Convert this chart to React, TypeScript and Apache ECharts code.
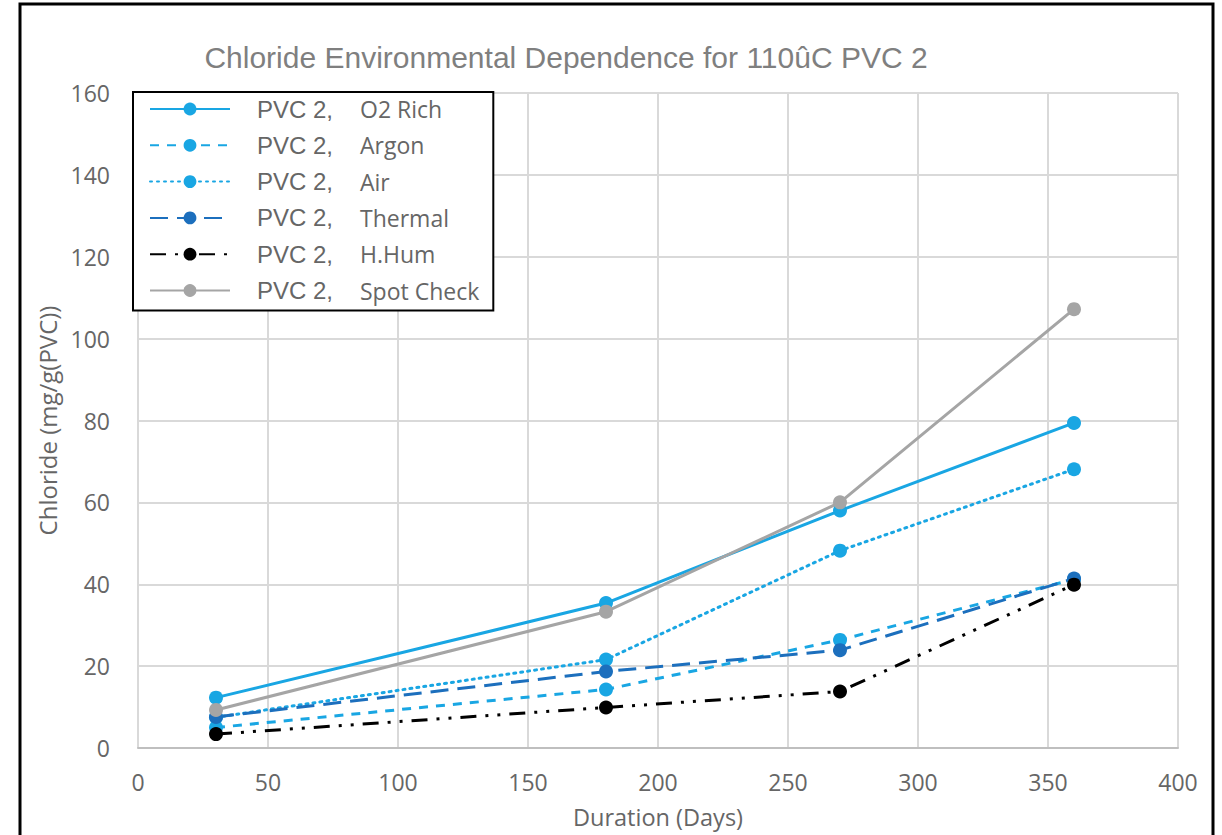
import React, { useEffect, useRef } from "react";
import * as echarts from "echarts";

const days = [30, 180, 270, 360];
const o2Rich = [12.3, 35.4, 58.0, 79.4];
const argon = [5.0, 14.3, 26.4, 41.2];
const air = [7.5, 21.6, 48.2, 68.1];
const thermal = [7.6, 18.7, 23.9, 41.4];
const hHum = [3.4, 9.9, 13.8, 39.9];
const spotCheck = [9.3, 33.3, 60.0, 107.2];
const seriesNames = ["O2 Rich", "Argon", "Air", "Thermal", "H.Hum", "Spot Check"];
const titleText = "Chloride Environmental Dependence for 110ûC PVC 2";
const legendPrefix = "PVC 2,";

const pair = (ys: number[]) => days.map((d, i) => [d, ys[i]]);

export default function App() {
  const ref = useRef<HTMLDivElement>(null);
  useEffect(() => {
    document.body.style.margin = "0";
    const chart = echarts.init(ref.current!, null, { renderer: "svg" });
    const light = "#19a6e3";
    const dark = "#1c6fbd";
    const mk = (name: string, ys: number[], color: string, type: any, cap: any = "butt") => ({
      name,
      type: "line",
      data: pair(ys),
      symbol: "circle",
      symbolSize: 14,
      itemStyle: { color },
      lineStyle: { color, width: 3, type, cap },
      z: 3,
    });
    chart.setOption({
      animation: false,
      backgroundColor: "#ffffff",
      title: {
        text: titleText,
        left: 561,
        textAlign: "center",
        top: 37,
        textStyle: { fontFamily: "Liberation Sans", fontSize: 30, fontWeight: "normal", color: "#7f7f7f" },
      },
      graphic: [
        {
          type: "rect",
          shape: { x: 20, y: 4, width: 1193, height: 900 },
          style: { fill: "none", stroke: "#000", lineWidth: 3 },
          z: 100,
        },
      ],
      grid: { left: 138, right: 44, top: 93, bottom: 87 },
      legend: {
        left: 133,
        top: 92,
        orient: "vertical",
        backgroundColor: "#fff",
        borderColor: "#000",
        borderWidth: 2,
        padding: [5, 14, 8, 16],
        itemWidth: 80,
        itemHeight: 16,
        itemGap: 12.3,
        itemStyle: { borderWidth: 0 },
        data: seriesNames,
        formatter: (name: string) => `{a|${legendPrefix}}{b|${name}}`,
        textStyle: {
          padding: [0, 0, 0, 22],
          rich: {
            a: { fontFamily: "Liberation Sans", fontSize: 24, color: "#666", width: 103, lineHeight: 26 },
            b: { fontFamily: "Open Sans", fontSize: 23, color: "#666", lineHeight: 26 },
          },
        },
      },
      xAxis: {
        type: "value",
        min: 0,
        max: 400,
        interval: 50,
        name: "Duration (Days)",
        nameLocation: "middle",
        nameGap: 57,
        nameTextStyle: { fontFamily: "Open Sans", fontSize: 23.5, color: "#666" },
        axisLine: { show: true, lineStyle: { color: "#bfbfbf", width: 2 } },
        axisTick: { show: false },
        axisLabel: { margin: 22, fontFamily: "Open Sans", fontSize: 23, color: "#666" },
        splitLine: { show: true, lineStyle: { color: "#d9d9d9", width: 2 } },
      },
      yAxis: {
        type: "value",
        min: 0,
        max: 160,
        interval: 20,
        name: "Chloride (mg/g(PVC))",
        nameLocation: "middle",
        nameGap: 72,
        nameTextStyle: { fontFamily: "Open Sans", fontSize: 24, color: "#666" },
        axisLine: { show: false },
        axisTick: { show: false },
        axisLabel: { margin: 28, fontFamily: "Open Sans", fontSize: 23, color: "#666" },
        splitLine: { show: true, lineStyle: { color: "#d9d9d9", width: 2 } },
      },
      series: [
        mk("O2 Rich", o2Rich, light, "solid"),
        mk("Argon", argon, light, [9, 8]),
        mk("Air", air, light, [2, 5], "round"),
        mk("Thermal", thermal, dark, [18, 9]),
        mk("H.Hum", hHum, "#000", [16, 9, 3, 9, 3, 9]),
        mk("Spot Check", spotCheck, "#a5a5a5", "solid"),
      ],
    });
    return () => chart.dispose();
  }, []);
  return <div ref={ref} style={{ position: "fixed", left: 0, top: 0, width: 1222, height: 835 }} />;
}
